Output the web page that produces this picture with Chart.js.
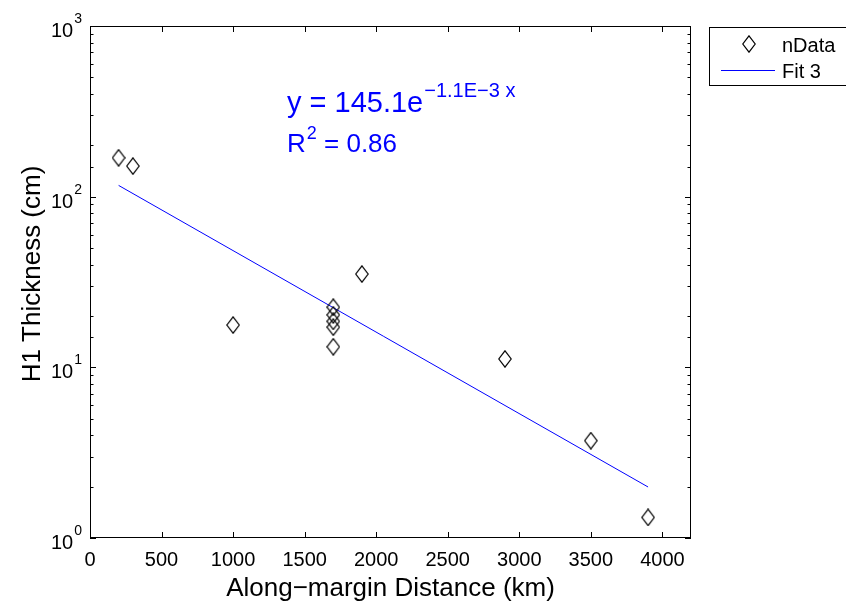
<!DOCTYPE html>
<html>
<head>
  <title>H1 Thickness vs Along-margin Distance</title>
  <script src="https://cdn.jsdelivr.net/npm/chart.js"></script>
  <style>
    body {
      margin: 0;
      padding: 0;
      background-color: white;
    }
    .chart-container {
      position: relative;
      width: 846px;
      height: 601px;
    }
  </style>
</head>
<body>
  <div class="chart-container">
    <canvas id="fitChart"></canvas>
  </div>

  <script>
    // Data
    const distKm = [200, 300, 1000, 1700, 1700, 1700, 1700, 1700, 1900, 2900, 3500, 3900];
    const thickCm = [169, 151, 17.7, 22.5, 20.3, 18.6, 17.2, 13.2, 35.2, 11.2, 3.72, 1.32];

    // Fit 3 line end points (straight on a log axis)
    const fitX = [200, 3900];
    const fitY = [116.4, 1.99];

    const xTickValues = [0, 500, 1000, 1500, 2000, 2500, 3000, 3500, 4000];
    const yTickExponents = [0, 1, 2, 3];

    const FONT = '"Liberation Sans", Arial, Helvetica, sans-serif';
    const BLUE = '#0000ff';

    // Tall MATLAB style diamond marker
    function makeDiamond() {
      const c = document.createElement('canvas');
      c.width = 14;
      c.height = 18;
      const g = c.getContext('2d');
      g.strokeStyle = '#000';
      g.lineWidth = 1.2;
      g.beginPath();
      g.moveTo(7, 0.8);
      g.lineTo(13.2, 9);
      g.lineTo(7, 17.2);
      g.lineTo(0.8, 9);
      g.closePath();
      g.stroke();
      return c;
    }
    const diamond = makeDiamond();

    // Box, inward ticks, y labels, titles, annotation and legend
    const decorations = {
      id: 'decorations',
      afterDraw(chart) {
        const ctx = chart.ctx;
        const area = chart.chartArea;
        const xs = chart.scales.x;
        const ys = chart.scales.y;
        ctx.save();
        ctx.strokeStyle = '#000';
        ctx.lineWidth = 1;

        // box
        ctx.strokeRect(area.left + 0.5, area.top + 0.5, area.right - area.left - 1, area.bottom - area.top - 1);

        // x ticks, top and bottom
        ctx.beginPath();
        for (const v of xTickValues) {
          const px = Math.round(xs.getPixelForValue(v)) + 0.5;
          ctx.moveTo(px, area.bottom);
          ctx.lineTo(px, area.bottom - 6);
          ctx.moveTo(px, area.top);
          ctx.lineTo(px, area.top + 6);
        }
        // y ticks, left and right (major and minor from the log scale)
        for (const t of ys.ticks) {
          const v = t.value;
          const major = Math.abs(Math.log10(v) - Math.round(Math.log10(v))) < 1e-9;
          const len = major ? 6 : 3.5;
          const py = Math.round(ys.getPixelForValue(v)) + 0.5;
          ctx.moveTo(area.left, py);
          ctx.lineTo(area.left + len, py);
          ctx.moveTo(area.right, py);
          ctx.lineTo(area.right - len, py);
        }
        ctx.stroke();

        // y tick labels 10^n
        ctx.fillStyle = '#000';
        ctx.textBaseline = 'alphabetic';
        for (const e of yTickExponents) {
          const py = ys.getPixelForValue(Math.pow(10, e));
          ctx.font = '14px ' + FONT;
          const ew = ctx.measureText(String(e)).width;
          ctx.textAlign = 'left';
          ctx.fillText(String(e), area.left - 8 - ew, py - 3);
          ctx.font = '20px ' + FONT;
          ctx.textAlign = 'right';
          ctx.fillText('10', area.left - 9 - ew, py + 11);
        }

        // axis titles
        ctx.font = '26px ' + FONT;
        ctx.textAlign = 'center';
        ctx.fillText('Along\u2212margin Distance (km)', (area.left + area.right) / 2, 596);
        ctx.save();
        ctx.translate(40, (area.top + area.bottom) / 2 - 8);
        ctx.rotate(-Math.PI / 2);
        ctx.fillText('H1 Thickness (cm)', 0, 0);
        ctx.restore();

        // fit annotation
        ctx.fillStyle = BLUE;
        ctx.textAlign = 'left';
        let x0 = 287;
        ctx.font = '29px ' + FONT;
        ctx.fillText('y = 145.1e', x0, 112);
        let w = ctx.measureText('y = 145.1e').width;
        ctx.font = '20px ' + FONT;
        ctx.fillText('\u22121.1E\u22123 x', x0 + w + 1, 97);
        ctx.font = '26px ' + FONT;
        ctx.fillText('R', x0, 152);
        w = ctx.measureText('R').width;
        ctx.font = '18px ' + FONT;
        ctx.fillText('2', x0 + w + 1, 139);
        const w2 = ctx.measureText('2').width;
        ctx.font = '26px ' + FONT;
        ctx.fillText(' = 0.86', x0 + w + w2 + 1, 152);

        // legend
        ctx.fillStyle = '#fff';
        ctx.fillRect(709, 27, 140, 58);
        ctx.strokeStyle = '#000';
        ctx.strokeRect(709.5, 27.5, 140, 58);
        ctx.drawImage(diamond, 749 - 7, 44 - 9);
        ctx.strokeStyle = BLUE;
        ctx.beginPath();
        ctx.moveTo(721, 70.5);
        ctx.lineTo(775, 70.5);
        ctx.stroke();
        ctx.fillStyle = '#000';
        ctx.font = '20px ' + FONT;
        ctx.fillText('nData', 782, 52);
        ctx.fillText('Fit 3', 782, 78);

        ctx.restore();
      }
    };

    const ctx = document.getElementById('fitChart').getContext('2d');
    const chart = new Chart(ctx, {
      type: 'scatter',
      data: {
        datasets: [
          {
            label: 'nData',
            data: distKm.map((x, i) => ({ x: x, y: thickCm[i] })),
            pointStyle: diamond,
            pointRadius: 7,
            showLine: false
          },
          {
            label: 'Fit 3',
            data: fitX.map((x, i) => ({ x: x, y: fitY[i] })),
            showLine: true,
            borderColor: BLUE,
            borderWidth: 1,
            pointRadius: 0,
            fill: false
          }
        ]
      },
      options: {
        responsive: true,
        maintainAspectRatio: false,
        animation: false,
        layout: {
          padding: { top: 26, right: 155, left: 0, bottom: 0 }
        },
        scales: {
          x: {
            type: 'linear',
            min: 0,
            max: 4200,
            grid: { display: false, drawTicks: false },
            border: { display: false },
            afterFit: function(scale) { scale.height = 63; },
            afterBuildTicks: function(scale) {
              scale.ticks = xTickValues.map(v => ({ value: v }));
            },
            ticks: {
              color: '#000',
              padding: 10,
              maxRotation: 0,
              font: { family: FONT, size: 20 },
              callback: v => String(v)
            }
          },
          y: {
            type: 'logarithmic',
            min: 1,
            max: 1000,
            grid: { display: false, drawTicks: false },
            border: { display: false },
            afterFit: function(scale) { scale.width = 90; },
            ticks: {
              autoSkip: false,
              callback: () => ''
            }
          }
        },
        plugins: {
          legend: { display: false },
          tooltip: { enabled: false }
        }
      },
      plugins: [decorations]
    });
  </script>
</body>
</html>
